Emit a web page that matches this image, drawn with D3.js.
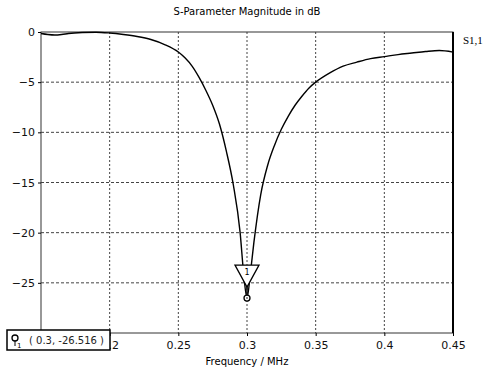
<!DOCTYPE html>
<html>
<head>
<meta charset="utf-8">
<script src="https://cdn.jsdelivr.net/npm/d3@7"></script>
<style>
  body { margin: 0; background: #fff; }
  svg { display: block; }
</style>
</head>
<body>
<div id="chart"></div>
<script>
// frequency in MHz, S11 magnitude in dB
var freq = [0.15, 0.155, 0.16, 0.165, 0.17, 0.18, 0.19, 0.2, 0.21, 0.22, 0.23, 0.24, 0.25, 0.255, 0.26, 0.265,
  0.27, 0.275, 0.28, 0.285, 0.29, 0.295, 0.2975, 0.3, 0.3025, 0.305, 0.31, 0.315, 0.32, 0.325, 0.33, 0.335,
  0.34, 0.345, 0.35, 0.36, 0.37, 0.38, 0.39, 0.4, 0.41, 0.42, 0.43, 0.44, 0.45];
var s11 = [-0.15, -0.25, -0.3, -0.25, -0.15, -0.05, -0.02, -0.1, -0.25, -0.45, -0.75, -1.25, -2.0, -2.6, -3.4, -4.5,
  -5.8, -7.3, -9.2, -11.9, -15.2, -20.0, -24.0, -26.516, -24.0, -21.0, -16.2, -13.3, -11.3, -9.7, -8.4, -7.3,
  -6.4, -5.6, -5.0, -4.1, -3.4, -3.0, -2.65, -2.45, -2.25, -2.1, -1.95, -1.85, -2.0];

var xTicks = [0.2, 0.25, 0.3, 0.35, 0.4, 0.45];
var yTicks = [0, -5, -10, -15, -20, -25];
var markerF = 0.3, markerDb = -26.516;

var width = 485, height = 372;
var plotLeft = 41, plotRight = 453, plotTop = 32, plotBottom = 333;

var x = d3.scaleLinear().domain([0.15, 0.45]).range([plotLeft, plotRight]);
var y = d3.scaleLinear().domain([-30, 0]).range([plotBottom, plotTop]);

var svg = d3.select("#chart").append("svg")
  .attr("width", width)
  .attr("height", height)
  .style("font-family", "DejaVu Sans");

// grid
svg.append("g").selectAll("line")
  .data(xTicks.slice(0, -1))
  .enter().append("line")
  .attr("x1", d => x(d)).attr("x2", d => x(d))
  .attr("y1", plotTop).attr("y2", plotBottom)
  .attr("stroke", "#444").attr("stroke-width", 1)
  .attr("stroke-dasharray", "2,2");

svg.append("g").selectAll("line")
  .data(yTicks.slice(1))
  .enter().append("line")
  .attr("x1", plotLeft).attr("x2", plotRight)
  .attr("y1", d => y(d)).attr("y2", d => y(d))
  .attr("stroke", "#444").attr("stroke-width", 1)
  .attr("stroke-dasharray", "3,2");

// frame
svg.append("rect")
  .attr("x", plotLeft).attr("y", plotTop)
  .attr("width", plotRight - plotLeft).attr("height", plotBottom - plotTop)
  .attr("fill", "none").attr("stroke", "#333").attr("stroke-width", 1);
svg.append("line")
  .attr("x1", plotRight).attr("x2", plotRight).attr("y1", plotTop).attr("y2", plotBottom)
  .attr("stroke", "#000").attr("stroke-width", 2);

// axes
var xAxis = svg.append("g")
  .attr("transform", "translate(0," + plotBottom + ")")
  .call(d3.axisBottom(x).tickValues(xTicks).tickSize(3).tickFormat(d3.format("")));
xAxis.select(".domain").remove();
xAxis.selectAll("text").attr("font-size", 11).attr("font-family", "DejaVu Sans").attr("dy", "0.95em").attr("fill", "#111");

var yAxis = svg.append("g")
  .attr("transform", "translate(" + plotLeft + ",0)")
  .call(d3.axisLeft(y).tickValues(yTicks).tickSize(3));
yAxis.select(".domain").remove();
yAxis.selectAll("text").attr("font-size", 11).attr("font-family", "DejaVu Sans").attr("fill", "#111");

// curve
var line = d3.line()
  .x((d, i) => x(freq[i]))
  .y(d => y(d))
  .curve(d3.curveMonotoneX);

svg.append("path")
  .attr("d", line(s11))
  .attr("fill", "none")
  .attr("stroke", "#000")
  .attr("stroke-width", 1.4);

// titles
svg.append("text")
  .attr("x", 247).attr("y", 15)
  .attr("text-anchor", "middle")
  .attr("font-size", 10)
  .text("S-Parameter Magnitude in dB");

svg.append("text")
  .attr("x", (plotLeft + plotRight) / 2).attr("y", 365)
  .attr("text-anchor", "middle")
  .attr("font-size", 10)
  .text("Frequency / MHz");

svg.append("text")
  .attr("x", 463).attr("y", 44)
  .attr("font-family", "Liberation Serif")
  .attr("font-size", 11)
  .text("S1,1");

// marker
var mx = x(markerF), my = y(markerDb);
svg.append("line")
  .attr("x1", mx).attr("x2", mx).attr("y1", my - 12).attr("y2", my)
  .attr("stroke", "#000").attr("stroke-width", 1.5);
svg.append("path")
  .attr("d", "M" + (mx - 12) + "," + (my - 33) + "L" + (mx + 12) + "," + (my - 33) + "L" + mx + "," + (my - 11) + "Z")
  .attr("fill", "#fff").attr("stroke", "#000").attr("stroke-width", 1.3);
svg.append("text")
  .attr("x", mx).attr("y", my - 23)
  .attr("text-anchor", "middle")
  .attr("font-size", 8)
  .text("1");
svg.append("circle")
  .attr("cx", mx).attr("cy", my).attr("r", 3)
  .attr("fill", "#fff").attr("stroke", "#000").attr("stroke-width", 1.3);
svg.append("circle")
  .attr("cx", mx).attr("cy", my).attr("r", 0.8)
  .attr("fill", "#000");

// marker readout box
var box = svg.append("g");
box.append("rect")
  .attr("x", 7).attr("y", 330).attr("width", 103).attr("height", 20)
  .attr("fill", "#fff").attr("stroke", "#000").attr("stroke-width", 1.5);
box.append("circle")
  .attr("cx", 15).attr("cy", 338).attr("r", 3)
  .attr("fill", "#fff").attr("stroke", "#000").attr("stroke-width", 1.3);
box.append("line")
  .attr("x1", 15).attr("x2", 15).attr("y1", 341).attr("y2", 346)
  .attr("stroke", "#000").attr("stroke-width", 1);
box.append("text")
  .attr("x", 17).attr("y", 348)
  .attr("font-size", 7)
  .text("1");
box.append("text")
  .attr("x", 29).attr("y", 344)
  .attr("font-size", 10)
  .attr("fill", "#222")
  .text("( " + markerF + ", " + markerDb + " )");
</script>
</body>
</html>
